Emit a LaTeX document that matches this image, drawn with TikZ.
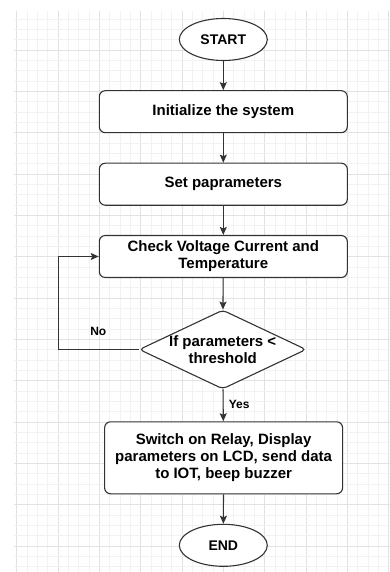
\documentclass[tikz,border=0pt]{standalone}
\usepackage{fontspec}
\setmainfont{Liberation Sans}
\usetikzlibrary{shapes.geometric,arrows.meta}
\definecolor{edge}{HTML}{333333}
\definecolor{gminor}{HTML}{F2F2F2}
\definecolor{gmajor}{HTML}{E2E2E2}
\begin{document}
\begin{tikzpicture}[x=1pt,y=-1pt,
  base/.style={draw=edge, line width=1.1pt, fill=white, inner sep=0pt, align=center, font=\bfseries\fontsize{15}{17}\selectfont},
  procbox/.style={base, rectangle, rounded corners=6pt},
  term/.style={base, ellipse, minimum width=88pt, minimum height=42pt, font=\bfseries\fontsize{14}{16}\selectfont},
  decide/.style={base, diamond, rounded corners=4pt},
  txt/.style={inner sep=0pt, align=center, font=\bfseries\fontsize{15}{17}\selectfont},
  lbl/.style={inner sep=0pt, font=\bfseries\fontsize{12}{14}\selectfont},
  conn/.style={draw=edge, line width=1.1pt, -{Stealth[length=8pt,width=7pt,inset=1.5pt]}}
]
\useasboundingbox (0,0) rectangle (390,572);
\fill[white] (0,0) rectangle (390,572);
% grid
\begin{scope}
\clip (14,11) rectangle (390,572);
\foreach \k in {-1,...,37}{
  \pgfmathsetmacro{\xx}{16.67+\k*10.333}
  \pgfmathtruncatemacro{\mm}{mod(\k+40,4)}
  \ifnum\mm=0\relax
    \draw[gmajor, line width=0.8pt] (\xx,11) -- (\xx,572);
  \else
    \draw[gminor, line width=0.7pt] (\xx,11) -- (\xx,572);
  \fi
}
\foreach \k in {-4,...,52}{
  \pgfmathsetmacro{\yy}{50+\k*10.333}
  \pgfmathtruncatemacro{\mm}{mod(\k+40,4)}
  \ifnum\mm=0\relax
    \draw[gmajor, line width=0.8pt] (14,\yy) -- (390,\yy);
  \else
    \draw[gminor, line width=0.7pt] (14,\yy) -- (390,\yy);
  \fi
}
\end{scope}
% nodes
\node[term] (start) at (223.3,39.5) {START};
\node[procbox, minimum width=248pt, minimum height=42pt] (init) at (223.3,111.7) {Initialize the system};
\node[procbox, minimum width=248pt, minimum height=42pt] (set) at (223.3,184.2) {Set paprameters};
\node[procbox, minimum width=248pt, minimum height=42pt] (check) at (223.3,256.5) {Check Voltage Current and\\Temperature};
\node[decide, minimum width=167pt, minimum height=79pt] (dec) at (222.7,349.5) {};
\node[txt] (dectext) at (dec.center) {If parameters \textless\\threshold};
\node[procbox, minimum width=238pt, minimum height=72pt] (act) at (223.6,457.8) {Switch on Relay, Display\\parameters on LCD, send data\\to IOT, beep buzzer};
\node[term] (end) at (223.3,545.3) {END};
\coordinate (loopb) at (58.3,349.5);
\coordinate (loopt) at (58.3,256.5);
% connectors
\draw[conn] (start) -- (init);
\draw[conn] (init) -- (set);
\draw[conn] (set) -- (check);
\draw[conn] (check) -- (dec);
\draw[conn] (dec) -- (act);
\draw[conn] (act) -- (end);
\draw[conn] (dec.west) -- (loopb) -- (loopt) -- (check.west);
\node[lbl] (no) at (98.3,331) {No};
\node[lbl] (yes) at (239.2,404) {Yes};
\end{tikzpicture}
\end{document}
